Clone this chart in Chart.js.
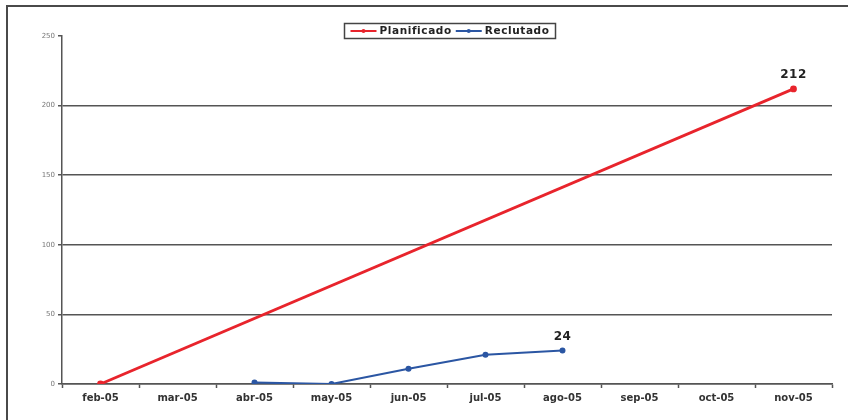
<!DOCTYPE html>
<html>
<head>
<meta charset="utf-8">
<script src="https://cdn.jsdelivr.net/npm/chart.js@4.4.0/dist/chart.umd.min.js"></script>
<style>
  html, body { margin: 0; padding: 0; background: #ffffff; }
  #wrap { width: 848px; height: 420px; position: relative; }
</style>
</head>
<body>
<div id="wrap"><canvas id="c" width="848" height="420"></canvas></div>
<script>
// Months shown on the category axis
const months = ['feb-05', 'mar-05', 'abr-05', 'may-05', 'jun-05', 'jul-05', 'ago-05', 'sep-05', 'oct-05', 'nov-05'];
// Planned recruitment: start and target only
const planificado = [0, null, null, null, null, null, null, null, null, 212];
// Actual recruitment to date
const reclutado = [null, null, 1, 0, 11, 21, 24, null, null, null];
// Value axis ticks
const yTicks = [0, 50, 100, 150, 200, 250];

const RED = '#e8242c';
const BLUE = '#2b56a3';
const GRID = '#555555';
const FONT = "'DejaVu Sans', Verdana, sans-serif";

// Frame around the chart (only top and left edges fall inside the canvas)
const framePlugin = {
  id: 'frame',
  beforeDraw(chart) {
    const ctx = chart.ctx;
    ctx.save();
    ctx.fillStyle = '#ffffff';
    ctx.fillRect(0, 0, chart.width, chart.height);
    ctx.strokeStyle = '#4a4a4a';
    ctx.lineWidth = 2;
    ctx.strokeRect(7, 6, chart.width + 20, chart.height + 20);
    ctx.restore();
  }
};

// Boxed legend with line + marker samples
const legendPlugin = {
  id: 'boxLegend',
  afterDraw(chart) {
    const ctx = chart.ctx;
    ctx.save();
    ctx.font = 'bold 10.5px ' + FONT;
    if ('letterSpacing' in ctx) ctx.letterSpacing = '0.6px';
    const items = chart.data.datasets.map(d => ({ text: d.label, color: d.borderColor }));
    const sample = 26, gapAfterSample = 3, gapBetween = 4, padX = 6;
    let total = padX * 2;
    items.forEach((it, i) => {
      it.w = ctx.measureText(it.text).width;
      total += sample + gapAfterSample + it.w + (i ? gapBetween : 0);
    });
    const cx = (chart.chartArea.left + chart.chartArea.right) / 2 + 3;
    const left = Math.round(cx - total / 2) + 0.5;
    const top = 23.5, h = 15;
    ctx.strokeStyle = '#444';
    ctx.lineWidth = 1.5;
    ctx.strokeRect(left, top, total, h);
    let x = left + padX;
    const y = top + h / 2;
    items.forEach((it, i) => {
      if (i) x += gapBetween;
      ctx.strokeStyle = it.color;
      ctx.lineWidth = 2;
      ctx.beginPath();
      ctx.moveTo(x, y);
      ctx.lineTo(x + sample, y);
      ctx.stroke();
      ctx.fillStyle = it.color;
      ctx.beginPath();
      ctx.arc(x + sample / 2, y, 2, 0, Math.PI * 2);
      ctx.fill();
      x += sample + gapAfterSample;
      ctx.fillStyle = '#222';
      ctx.textBaseline = 'middle';
      ctx.textAlign = 'left';
      ctx.fillText(it.text, x, y + 0.5);
      x += it.w;
    });
    ctx.restore();
  }
};

// Value label over the last point of each series
const endLabelPlugin = {
  id: 'endLabels',
  afterDatasetsDraw(chart) {
    const ctx = chart.ctx;
    ctx.save();
    ctx.font = 'bold 12px ' + FONT;
    if ('letterSpacing' in ctx) ctx.letterSpacing = '0.5px';
    ctx.fillStyle = '#222';
    ctx.textAlign = 'center';
    ctx.textBaseline = 'bottom';
    chart.data.datasets.forEach((ds, di) => {
      let last = -1;
      ds.data.forEach((v, i) => { if (v !== null) last = i; });
      if (last < 0) return;
      const pt = chart.getDatasetMeta(di).data[last];
      ctx.fillText(String(ds.data[last]), pt.x, pt.y - 8);
    });
    ctx.restore();
  }
};

new Chart(document.getElementById('c'), {
  type: 'line',
  data: {
    labels: months,
    datasets: [
      {
        label: 'Planificado',
        data: planificado,
        borderColor: RED,
        backgroundColor: RED,
        borderWidth: 2.8,
        pointRadius: 2,
        pointStyle: 'circle',
        spanGaps: true,
        tension: 0
      },
      {
        label: 'Reclutado',
        data: reclutado,
        borderColor: BLUE,
        backgroundColor: BLUE,
        borderWidth: 2,
        pointRadius: 2,
        pointStyle: 'circle',
        spanGaps: false,
        tension: 0
      }
    ]
  },
  options: {
    responsive: false,
    animation: false,
    devicePixelRatio: 1,
    layout: { padding: { left: 8, right: 16, top: 36, bottom: 12 } },
    plugins: {
      legend: { display: false },
      tooltip: { enabled: false }
    },
    scales: {
      x: {
        type: 'category',
        offset: true,
        grid: {
          offset: true,
          drawOnChartArea: false,
          drawTicks: true,
          tickLength: 4,
          tickColor: GRID,
          tickWidth: 1.5
        },
        border: { color: GRID, width: 1.5 },
        ticks: {
          color: '#333',
          font: { family: FONT, size: 10, weight: 'bold' },
          padding: 4,
          maxRotation: 0,
          autoSkip: false
        }
      },
      y: {
        min: 0,
        max: 250,
        afterBuildTicks(axis) { axis.ticks = yTicks.map(v => ({ value: v })); },
        afterFit(axis) { axis.width = 54; },
        grid: {
          color: ctx => (ctx.tick && ctx.tick.value === 250) ? 'rgba(0,0,0,0)' : GRID,
          lineWidth: 1.5,
          drawTicks: true,
          tickLength: 4,
          tickColor: GRID,
          tickWidth: 1.5
        },
        border: { color: GRID, width: 1.5 },
        ticks: {
          color: '#777',
          font: { family: FONT, size: 7 },
          padding: 3
        }
      }
    }
  },
  plugins: [framePlugin, legendPlugin, endLabelPlugin]
});
</script>
</body>
</html>
